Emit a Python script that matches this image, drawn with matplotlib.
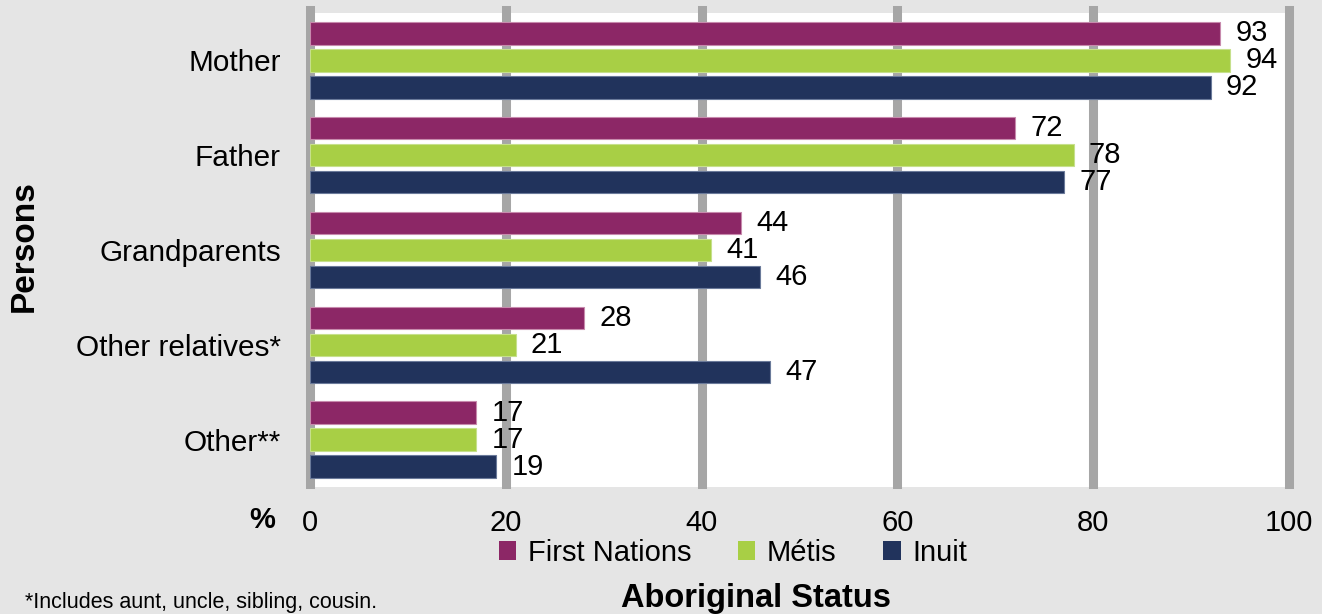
import numpy as np, matplotlib; matplotlib.use("Agg")
import matplotlib.pyplot as plt
from matplotlib.patches import Patch

plt.rcParams["font.family"] = ["Liberation Sans", "DejaVu Sans"]

categories = ["Mother", "Father", "Grandparents", "Other relatives*", "Other**"]
series = ["First Nations", "Métis", "Inuit"]
first_nations = [93, 72, 44, 28, 17]
metis = [94, 78, 41, 21, 17]
inuit = [92, 77, 46, 47, 19]
values = [first_nations, metis, inuit]
colors = ["#8c2766", "#a8cf45", "#21335c"]
edges = ["#c78aad", "#c6e08c", "#6a7a9a"]
xticks = [0, 20, 40, 60, 80, 100]

bg = "#e5e5e5"
fig = plt.figure(figsize=(13.22, 6.14), dpi=100, facecolor=bg)
ax = fig.add_axes([310/1322, 1-487/614, 979/1322, 474/614])
ax.set_facecolor("white")
for s in ax.spines.values():
    s.set_visible(False)

y = np.arange(len(categories))
step, h = 0.285, 0.235
for i, (vals, c, e) in enumerate(zip(values, colors, edges)):
    pos = y + (i - 1) * step
    ax.barh(pos, vals, height=h, color=c, edgecolor=e, linewidth=0.8, zorder=3)
    for p, v in zip(pos, vals):
        ax.annotate(str(v), (v, p), xytext=(11, 0), textcoords="offset points",
                    va="center", ha="left", fontsize=21)

for t in xticks:
    ax.axvline(t, ymin=0.006, ymax=1.006, color="#a6a6a6", linewidth=6.5, zorder=1, clip_on=False)

ax.set_xlim(0, 100)
ax.set_ylim(len(categories) - 0.5, -0.5)
ax.set_xticks(xticks)
ax.set_yticks(y)
ax.set_yticklabels(categories)
ax.tick_params(axis="x", length=0, pad=16, labelsize=21)
ax.tick_params(axis="y", length=0, pad=21, labelsize=21.4)

fig.text(262/1322, 1-520/614, "%", fontsize=21, fontweight="bold", ha="center", va="center")
fig.text(24/1322, 1-246/614, "Persons", fontsize=24, fontweight="bold", rotation=90,
         ha="center", va="center")
fig.text(756/1322, 1-607/614, "Aboriginal Status", fontsize=23.5, fontweight="bold",
         ha="center", va="baseline")
fig.text(25/1322, 1/614, "*Includes aunt, uncle, sibling, cousin.", fontsize=15.5,
         ha="left", va="bottom")

handles = [Patch(facecolor=c, label=s) for s, c in zip(series, colors)]
fig.legend(handles=handles, loc="center", bbox_to_anchor=(733/1322, 1-553/614), ncol=3,
           frameon=False, fontsize=21, handlelength=0.6, handleheight=0.6,
           handletextpad=0.4, columnspacing=1.6, borderaxespad=0, borderpad=0)

fig.savefig("out.png", dpi=100, facecolor=bg)
